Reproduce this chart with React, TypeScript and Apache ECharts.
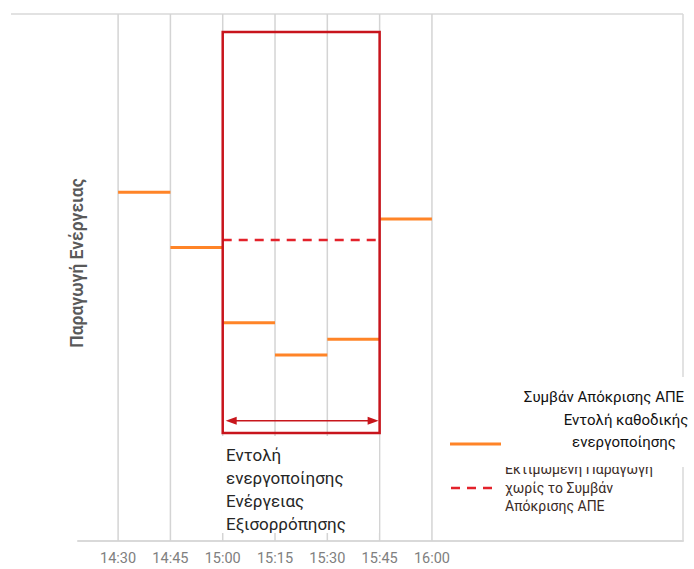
import React, { useEffect, useRef } from "react";
import * as echarts from "echarts";

// ---- data ----
const tickLabels = ["14:30", "14:45", "15:00", "15:15", "15:30", "15:45", "16:00"];
const segmentStarts = ["14:30", "14:45", "15:00", "15:15", "15:30", "15:45"];
const segmentEnds = ["14:45", "15:00", "15:15", "15:30", "15:45", "16:00"];
const segmentValues = [66.2, 55.7, 41.4, 35.3, 38.3, 61.1];
const estimatedRange = ["15:00", "15:45"];
const estimatedValue = [57.1];
const eventRange = ["15:00", "15:45"];
const eventBounds = [20.5, 96.6]; // bottom, top
const arrowLevel = [22.8];

const yAxisName = "Παραγωγή Ενέργειας";
const boxText = "Εντολή\nενεργοποίησης\nΕνέργειας\nΕξισορρόπησης";
const legendOrange = ["Συμβάν Απόκρισης ΑΠΕ", "Εντολή καθοδικής", "ενεργοποίησης"];
const legendRed = ["Εκτιμώμενη Παραγωγή", "χωρίς το Συμβάν", "Απόκρισης ΑΠΕ"];

const toMin = (s: string) => {
  const [h, m] = s.split(":").map(Number);
  return h * 60 + m;
};
const fmt = (v: number) => {
  const h = Math.floor(v / 60);
  const m = Math.round(v - h * 60);
  return `${h}:${m < 10 ? "0" + m : m}`;
};

const Y_MIN = 0;
const Y_MAX = 100;
const FONT = "Roboto, 'Noto Sans', sans-serif";

export default function App() {
  const ref = useRef<HTMLDivElement>(null);

  useEffect(() => {
    if (!ref.current) return;
    const chart = echarts.init(ref.current, undefined, { renderer: "svg" });

    const gridData = tickLabels.map((t) => [toMin(t)]);
    const segData = segmentStarts.map((s, i) => [toMin(s), toMin(segmentEnds[i]), segmentValues[i]]);
    const dashData = [[toMin(estimatedRange[0]), toMin(estimatedRange[1]), estimatedValue[0]]];
    const boxData = [[toMin(eventRange[0]), toMin(eventRange[1]), eventBounds[0], eventBounds[1]]];
    const arrowData = [[toMin(eventRange[0]), toMin(eventRange[1]), arrowLevel[0]]];

    const hLine = (color: string, width: number, dash?: number[]) => (params: any, api: any) => {
      const p1 = api.coord([api.value(0), api.value(2)]);
      const p2 = api.coord([api.value(1), api.value(2)]);
      return {
        type: "line",
        shape: { x1: p1[0], y1: p1[1], x2: p2[0], y2: p2[1] },
        style: { stroke: color, lineWidth: width, lineDash: dash, fill: null },
      };
    };

    const option: any = {
      animation: false,
      grid: { left: 78, right: 11, top: 14, bottom: 28, containLabel: false },
      xAxis: {
        type: "value",
        min: 858.5,
        max: 1032,
        axisLine: { show: true, lineStyle: { color: "#d9d9d9", width: 2 } },
        axisTick: { show: false },
        splitLine: { show: false },
        axisLabel: {
          customValues: tickLabels.map(toMin),
          formatter: (v: number) => fmt(v),
          color: "#808080",
          fontSize: 14.5,
          fontFamily: FONT,
          margin: 10,
        },
      },
      yAxis: {
        type: "value",
        min: Y_MIN,
        max: Y_MAX,
        show: false,
      },
      series: [
        {
          type: "custom",
          name: "grid",
          z: 1,
          data: gridData,
          renderItem: (params: any, api: any) => {
            const p1 = api.coord([api.value(0), Y_MIN]);
            const p2 = api.coord([api.value(0), Y_MAX]);
            return {
              type: "line",
              shape: { x1: p1[0], y1: p1[1], x2: p2[0], y2: p2[1] },
              style: { stroke: "#d4d4d4", lineWidth: 1.5 },
            };
          },
        },
        {
          type: "custom",
          name: "Συμβάν Απόκρισης ΑΠΕ",
          z: 3,
          data: segData,
          renderItem: hLine("#ff8427", 3),
        },
        {
          type: "custom",
          name: "Εκτιμώμενη Παραγωγή",
          z: 3,
          data: dashData,
          renderItem: hLine("#e3222b", 2.5, [9, 7]),
        },
        {
          type: "custom",
          name: "box",
          z: 4,
          data: boxData,
          renderItem: (params: any, api: any) => {
            const p1 = api.coord([api.value(0), api.value(3)]);
            const p2 = api.coord([api.value(1), api.value(2)]);
            return {
              type: "rect",
              shape: { x: p1[0], y: p1[1], width: p2[0] - p1[0], height: p2[1] - p1[1] },
              style: { stroke: "#c8141c", lineWidth: 2.5, fill: null },
            };
          },
        },
        {
          type: "custom",
          name: "arrow",
          z: 4,
          data: arrowData,
          renderItem: (params: any, api: any) => {
            const p1 = api.coord([api.value(0), api.value(2)]);
            const p2 = api.coord([api.value(1), api.value(2)]);
            const x1 = p1[0] + 3;
            const x2 = p2[0] - 1;
            const y = p1[1];
            const c = "#c8161c";
            return {
              type: "group",
              children: [
                {
                  type: "line",
                  shape: { x1: x1 + 6, y1: y, x2: x2 - 6, y2: y },
                  style: { stroke: c, lineWidth: 1.5 },
                },
                {
                  type: "polygon",
                  shape: { points: [[x1, y], [x1 + 11, y - 4], [x1 + 11, y + 4]] },
                  style: { fill: c },
                },
                {
                  type: "polygon",
                  shape: { points: [[x2, y], [x2 - 11, y - 4], [x2 - 11, y + 4]] },
                  style: { fill: c },
                },
              ],
            };
          },
        },
      ],
      graphic: [
        // frame lines
        {
          type: "line",
          z: 0,
          shape: { x1: 11, y1: 14, x2: 683, y2: 14 },
          style: { stroke: "#d9d9d9", lineWidth: 1.5 },
        },
        {
          type: "line",
          z: 0,
          shape: { x1: 683, y1: 14, x2: 683, y2: 541 },
          style: { stroke: "#d9d9d9", lineWidth: 1.5 },
        },
        // y axis title
        {
          type: "text",
          z: 20,
          x: 77,
          y: 263,
          rotation: Math.PI / 2,
          style: {
            text: yAxisName,
            fontSize: 17.5,
            fontWeight: 600,
            fontFamily: FONT,
            fill: "#595959",
            textAlign: "center",
            textVerticalAlign: "middle",
          },
        },
        // white label area under the box
        {
          type: "rect",
          z: 20,
          shape: { x: 222, y: 436, width: 157, height: 97 },
          style: { fill: "#ffffff" },
        },
        {
          type: "text",
          z: 21,
          x: 226,
          y: 443,
          style: {
            text: boxText,
            fontSize: 17,
            lineHeight: 23,
            fontFamily: FONT,
            fill: "#262626",
            textAlign: "left",
            textVerticalAlign: "top",
          },
        },
        // legend - red dashed item
        {
          type: "line",
          z: 20,
          shape: { x1: 451, y1: 488, x2: 498, y2: 488 },
          style: { stroke: "#e3222b", lineWidth: 2.5, lineDash: [9, 7] },
        },
        {
          type: "text",
          z: 20,
          x: 505,
          y: 460,
          style: {
            text: legendRed.join("\n"),
            fontSize: 14,
            lineHeight: 18.5,
            fontFamily: FONT,
            fill: "#3b2b26",
            textAlign: "left",
            textVerticalAlign: "top",
          },
        },
        {
          type: "rect",
          z: 22,
          shape: { x: 502, y: 377, width: 192, height: 90 },
          style: { fill: "#ffffff" },
        },
        // legend - orange item
        {
          type: "line",
          z: 23,
          shape: { x1: 450, y1: 444, x2: 501, y2: 444 },
          style: { stroke: "#ff8427", lineWidth: 3 },
        },
        {
          type: "text",
          z: 23,
          x: 604,
          y: 397,
          style: {
            text: legendOrange[0],
            fontSize: 15,
            fontFamily: FONT,
            fill: "#111111",
            textAlign: "center",
            textVerticalAlign: "middle",
          },
        },
        {
          type: "text",
          z: 23,
          x: 626,
          y: 420,
          style: {
            text: legendOrange[1],
            fontSize: 15,
            fontFamily: FONT,
            fill: "#111111",
            textAlign: "center",
            textVerticalAlign: "middle",
          },
        },
        {
          type: "text",
          z: 23,
          x: 624,
          y: 442,
          style: {
            text: legendOrange[2],
            fontSize: 15,
            fontFamily: FONT,
            fill: "#111111",
            textAlign: "center",
            textVerticalAlign: "middle",
          },
        },
      ],
    };

    chart.setOption(option);
    return () => chart.dispose();
  }, []);

  return (
    <div
      ref={ref}
      style={{ position: "fixed", left: 0, top: 0, width: 694, height: 569, background: "#ffffff" }}
    />
  );
}
